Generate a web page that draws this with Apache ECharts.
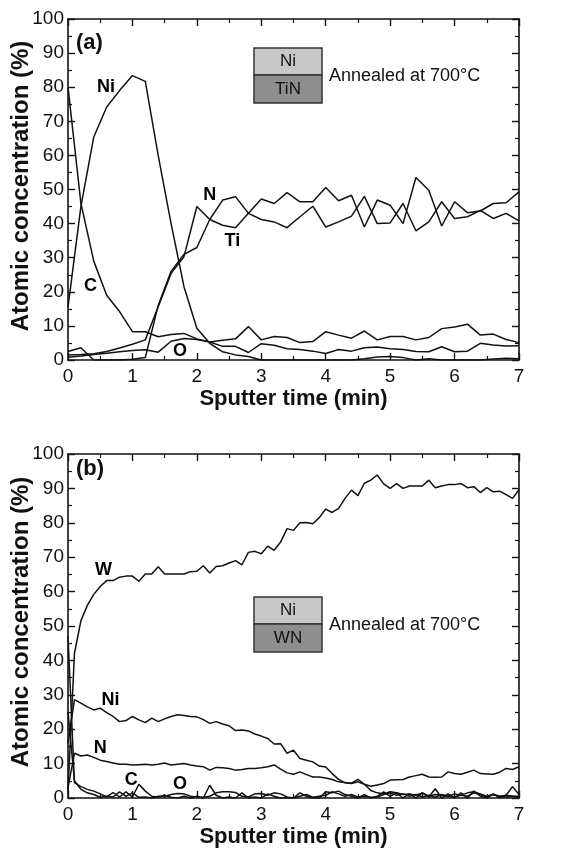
<!DOCTYPE html>
<html>
<head>
<meta charset="utf-8">
<script src="https://cdn.jsdelivr.net/npm/echarts@6/dist/echarts.min.js"></script>
<style>html,body{margin:0;padding:0;background:#fff;}#c{width:586px;height:852px;}</style>
</head>
<body>
<div id="c"></div>
<script>
// ---------- Panel (a): Ni / TiN ----------
const timeA = [0,0.2,0.4,0.6,0.8,1.0,1.2,1.4,1.6,1.8,2.0,2.2,2.4,2.6,2.8,3.0,3.2,3.4,3.6,3.8,4.0,4.2,4.4,4.6,4.8,5.0,5.2,5.4,5.6,5.8,6.0,6.2,6.4,6.6,6.8,7.0];
const niA = [15.5,45,65.4,74.2,79,83.4,81.7,60,40,21.5,9.3,4.9,2.4,1.5,1.0,0,0,0,0,0,0,0,0,0.4,0.9,1.0,0.7,0,0.4,0,0,0,0,0.3,0.5,0.4];
const cA  = [80,46,29,19,14.2,8.3,8.3,6.8,7.5,7.8,6.2,5.3,5.8,6.2,9.8,5.9,6.9,6.6,5.1,5.4,8.3,7.3,6.4,8.5,5.9,6.9,6.9,5.9,6.6,9.2,9.7,10.5,7.3,7.6,6.0,5.1];
const oA  = [0.8,1.2,1.6,2.0,2.4,2.8,3.0,2.3,5.5,6.3,6.0,5.3,4.0,4.0,2.2,4.8,4.3,3.3,3.1,2.6,1.9,3.1,2.6,3.6,3.8,3.3,3.1,2.5,2.4,3.9,2.4,2.6,4.9,4.4,4.1,4.2];
const nA  = [2.5,3.6,0,0,0,0.2,0.7,16,26,31,33,41.2,46.9,47.9,43,47.2,45.9,49.1,46.4,46.4,50.6,46.7,48.3,39,46.9,45.4,40,53.5,49.8,39.3,46.4,43.2,43.7,45.9,46.1,49.3];
const tiA = [1.5,1.6,1.8,2.5,3.5,4.6,5.9,15.6,25.4,30.3,45,41.2,39.5,38.8,43,41.2,40.5,38.8,42,45.1,39,40.5,42.2,48,40,40.2,45.9,37.9,40.5,46.4,41.5,42,43.9,41.5,43,40.8];

// ---------- Panel (b): Ni / WN ----------
const timeB = [0,0.1,0.2,0.3,0.4,0.5,0.6,0.7,0.8,0.9,1.0,1.1,1.2,1.3,1.4,1.5,1.6,1.7,1.8,1.9,2.0,2.1,2.2,2.3,2.4,2.5,2.6,2.7,2.8,2.9,3.0,3.1,3.2,3.3,3.4,3.5,3.6,3.7,3.8,3.9,4.0,4.1,4.2,4.3,4.4,4.5,4.6,4.7,4.8,4.9,5.0,5.1,5.2,5.3,5.4,5.5,5.6,5.7,5.8,5.9,6.0,6.1,6.2,6.3,6.4,6.5,6.6,6.7,6.8,6.9,7.0];
const wB  = [2,42,51.5,56,59.2,61.5,63.2,63.2,64.2,64.5,64.5,63,65.1,65.1,67.2,65.1,65.1,65.1,65.1,65.8,65.9,67.5,65.4,67.3,67.5,68.3,69,67.8,71.4,71.7,71,73.2,72,74.4,78.3,77.8,80,80.1,79.7,81.5,84,83,84.2,87.1,89.5,87.9,91.5,92.4,93.9,91.3,90,91.4,90,90.7,90.7,90.7,92.4,90.2,90.7,91.1,91.1,91.4,90.2,90.5,88.8,90.2,89,89.2,88.2,87.1,89.6];
const niB = [16,28.6,27.6,26.5,25.6,26.1,24.8,23.7,22.2,22.5,23.7,22.7,21.9,23.2,22.2,23,23.7,24.2,24,23.7,23.6,22.8,21.7,22.2,21.5,21,19.6,19.8,19.5,18.6,18,17.3,15.7,15.8,13,13.9,11.5,11,10.5,9.3,9,7.1,5.4,4.4,4.3,5.4,4,2.2,1.5,1.2,1.8,1.5,1.0,1.2,0.8,1.5,0.5,1.0,0.8,0.5,1.2,0.8,0.5,1.5,1.0,0.3,1.0,0.5,0.8,0.5,0.5];
const nB  = [3,13,12.2,12.5,11.8,11,10.6,10.2,9.8,9.8,9.6,9.7,9.8,9.6,9.8,10.2,9.6,9.8,10,9.6,9.3,9.1,8.1,8.9,8.8,8.6,8.1,8.3,8.6,8.6,8.8,9.1,9.6,8.4,7.3,6.9,7.6,6.8,6.1,6.1,5.8,5.4,4.7,4.5,4.2,4.7,4.0,3.4,3.8,4.2,5.2,5.3,5.4,6.1,6.5,6.9,6.1,6.0,6.1,7.6,7.1,6.9,7.5,8.1,7.1,7.0,6.9,7.5,8.6,8.3,9.1];
const cB  = [47,4.5,3.3,2.5,2.0,1.2,0.3,1.6,0.3,1.8,0.3,4.0,2.0,0.5,0.2,0.8,0.2,0,0.5,0,0.5,0,3.7,0.8,0,0.3,0,1.5,0,0.3,0,1.2,0.5,0,0,0,1.5,0.5,0,0,1.8,1.5,2.0,1.0,0.5,0,1.0,0,0.5,1.8,0.5,1.5,0,1.2,0,1.5,0.3,2.7,0,1.2,0,1.5,0,2.0,0.5,0,1.2,0,0.8,3.3,1.0];
const oB  = [25,5,2.5,1.5,1.0,0.2,0.5,0.3,1.8,0.5,1.5,0.2,0.3,0,0.5,0.5,1.0,1.3,1.2,0.5,0.3,0.2,0.5,1.5,1.8,1.8,1.6,0.5,0.3,1.2,1.3,0.8,1.5,1.2,0.3,0,0.5,1.0,0.2,0.5,0.8,1.8,1.2,0.5,1.0,0.3,0.5,0.2,0.3,1.0,1.5,0.8,1.2,0.5,1.0,0.3,0.8,0.2,1.0,0.5,0.3,0.8,1.5,1.8,1.2,0.5,1.0,0.5,0.3,0.5,0.2];

// element labels: [name, time, concentration]
const labelsA = [["Ni",0.59,80],["C",0.35,21.7],["N",2.2,48.4],["Ti",2.55,35],["O",1.74,2.6]];
const labelsB = [["W",0.55,66.3],["Ni",0.66,28.5],["N",0.5,14.5],["C",0.98,5.2],["O",1.74,4]];

const xTicks = [0,1,2,3,4,5,6,7];
const yTicks = [0,10,20,30,40,50,60,70,80,90,100];
const yTitle = 'Atomic concentration (%)';
const xTitle = 'Sputter time (min)';

const FONT = "'Liberation Sans', Arial, sans-serif";
const INK = '#111';

function pairs(t, v){ return t.map((x,i)=>[x, v[i]]); }

const grids = [
  {left:68, top:19, width:451, height:341, containLabel:false, outerBoundsMode:'none'},
  {left:68, top:454, width:451, height:344, containLabel:false, outerBoundsMode:'none'}
];

const xAxes = [], yAxes = [];
[0,1].forEach(g=>{
  const base = {
    type:'value', gridIndex:g, min:xTicks[0], max:xTicks[xTicks.length-1], interval:1,
    axisLine:{show:true, onZero:false, lineStyle:{color:INK, width:1.6}},
    axisTick:{show:true, inside:true, length:7, lineStyle:{color:INK, width:1.4}},
    minorTick:{show:true, splitNumber:2, length:4, lineStyle:{color:INK, width:1.2}},
    splitLine:{show:false}
  };
  xAxes.push(Object.assign({}, base, {
    position:'bottom',
    axisLabel:{show:true, fontSize:19, color:INK, fontFamily:FONT, margin:7},
    name:xTitle, nameLocation:'middle', nameGap:28,
    nameTextStyle:{fontSize:22, fontWeight:'bold', color:INK, fontFamily:FONT, verticalAlign:'top'}
  }));
  xAxes.push(Object.assign({}, base, {position:'top', axisLabel:{show:false}}));
  const ybase = {
    type:'value', gridIndex:g, min:yTicks[0], max:yTicks[yTicks.length-1], interval:10,
    axisLine:{show:true, onZero:false, lineStyle:{color:INK, width:1.6}},
    axisTick:{show:true, inside:true, length:7, lineStyle:{color:INK, width:1.4}},
    minorTick:{show:true, splitNumber:2, length:4, lineStyle:{color:INK, width:1.2}},
    splitLine:{show:false}
  };
  yAxes.push(Object.assign({}, ybase, {
    position:'left',
    axisLabel:{show:true, fontSize:19, color:INK, fontFamily:FONT, margin:4}
  }));
  yAxes.push(Object.assign({}, ybase, {position:'right', axisLabel:{show:false}}));
});

function lineSeries(name, t, v, g){
  return {
    name, type:'line', xAxisIndex:g*2, yAxisIndex:g*2, data:pairs(t,v),
    showSymbol:false, symbol:'none', animation:false, clip:true,
    lineStyle:{color:INK, width:1.5}
  };
}
function labelSeries(labels, g){
  return {
    type:'scatter', xAxisIndex:g*2, yAxisIndex:g*2, symbolSize:1, animation:false,
    itemStyle:{color:'rgba(0,0,0,0)', opacity:1},
    data:labels.map(l=>({name:l[0], value:[l[1], l[2]]})),
    label:{show:true, position:'inside', formatter:p=>p.name, fontSize:18, fontWeight:'bold', color:'#000', opacity:1, fontFamily:FONT},
    silent:true
  };
}

const series = [
  lineSeries('Ni', timeA, niA, 0),
  lineSeries('C', timeA, cA, 0),
  lineSeries('O', timeA, oA, 0),
  lineSeries('N', timeA, nA, 0),
  lineSeries('Ti', timeA, tiA, 0),
  labelSeries(labelsA, 0),
  lineSeries('W', timeB, wB, 1),
  lineSeries('Ni', timeB, niB, 1),
  lineSeries('N', timeB, nB, 1),
  lineSeries('C', timeB, cB, 1),
  lineSeries('O', timeB, oB, 1),
  labelSeries(labelsB, 1)
];

function legendBox(top, lowerText){
  return [
    {type:'rect', shape:{x:254, y:top, width:68, height:27}, style:{fill:'#c8c8c8', stroke:'#333', lineWidth:1.5}},
    {type:'rect', shape:{x:254, y:top+27, width:68, height:28}, style:{fill:'#8e8e8e', stroke:'#333', lineWidth:1.5}},
    {type:'text', x:288, y:top+13.5, style:{text:'Ni', fontSize:17, fontFamily:FONT, fill:INK, align:'center', verticalAlign:'middle'}},
    {type:'text', x:288, y:top+41, style:{text:lowerText, fontSize:17, fontFamily:FONT, fill:INK, align:'center', verticalAlign:'middle'}},
    {type:'text', x:329, y:top+28, style:{text:'Annealed at 700°C', fontSize:18, fontFamily:FONT, fill:INK, align:'left', verticalAlign:'middle'}}
  ];
}
function yTitleText(cy){
  return {type:'text', x:21, y:cy, rotation:Math.PI/2,
    style:{text:yTitle, fontSize:24, fontWeight:'bold', fontFamily:FONT, fill:INK, align:'center', verticalAlign:'middle'}};
}

const graphic = [
  {type:'text', x:76, y:43, style:{text:'(a)', fontSize:22, fontWeight:'bold', fontFamily:FONT, fill:INK, align:'left', verticalAlign:'middle'}},
  {type:'text', x:76, y:469, style:{text:'(b)', fontSize:22, fontWeight:'bold', fontFamily:FONT, fill:INK, align:'left', verticalAlign:'middle'}},
  yTitleText(186), yTitleText(622)
].concat(legendBox(48,'TiN')).concat(legendBox(597,'WN'));

const chart = echarts.init(document.getElementById('c'), null, {renderer:'canvas'});
chart.setOption({
  animation:false,
  backgroundColor:'#fff',
  grid:grids, xAxis:xAxes, yAxis:yAxes, series, graphic
});
</script>
</body>
</html>
